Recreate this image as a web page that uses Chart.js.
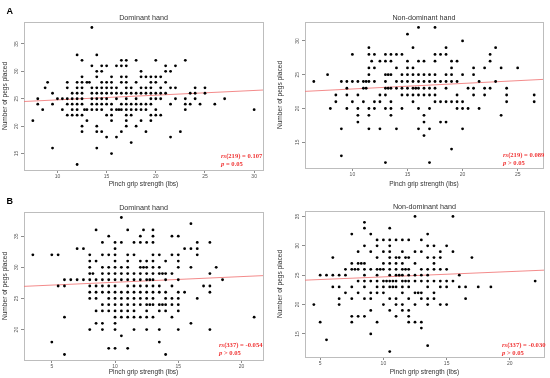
<!DOCTYPE html>
<html>
<head>
<meta charset="utf-8">
<script src="https://cdn.jsdelivr.net/npm/chart.js@4.4.1/dist/chart.umd.min.js"></script>
<style>
  html, body { margin: 0; padding: 0; background: #fff; }
  #wrap { position: relative; width: 550px; height: 378px; overflow: hidden; }
  canvas { position: absolute; }
</style>
</head>
<body>
<div id="wrap">
  <canvas id="c1" width="275" height="190" style="left:0;top:0"></canvas>
  <canvas id="c2" width="275" height="190" style="left:275px;top:0"></canvas>
  <canvas id="c3" width="275" height="188" style="left:0;top:190px"></canvas>
  <canvas id="c4" width="275" height="188" style="left:275px;top:190px"></canvas>
</div>
<script>
// ---- data ----
// each x value (pinch grip, lbs) with the peg counts plotted at it

// A, dominant hand
const aDomX = [7.5, 8, 8.5, 8.75, 9, 9.5, 10, 10.5, 11, 11.5, 12, 12.5, 12.75, 13, 13.25, 13.5, 14, 14.5, 15, 15.5, 16, 16.25, 16.5, 17, 17.5, 18, 18.5, 19, 19.5, 20, 20.5, 21, 21.5, 22, 22.5, 23, 23.5, 24, 24.5, 25, 26, 27, 30];
const aDomY = [[21], [25, 24], [23], [27], [28], [26, 24, 16], [25], [25, 23], [28, 27, 25, 24, 22], [26, 25, 24, 23, 22],
  [33, 28, 27, 26, 25, 24, 23, 22, 13], [32, 29, 28, 27, 26, 25, 24, 22, 20, 19], [23], [28, 23, 21], [28],
  [38, 31, 27, 26, 25, 24, 23], [33, 30, 29, 27, 26, 25, 24, 23, 20, 19, 16], [31, 30, 28, 27, 26, 25, 24, 23, 19],
  [31, 28, 27, 26, 25, 24, 22, 18], [29, 28, 27, 26, 24, 23, 22, 21, 15], [31, 27, 26, 25, 23, 18], [23],
  [32, 31, 29, 28, 26, 24, 23, 19], [32, 31, 29, 28, 27, 26, 25, 24, 23, 22, 21, 20], [27, 26, 24, 23, 22, 17],
  [32, 28, 26, 25, 24, 23, 20], [30, 29, 27, 26, 24, 23, 21], [29, 27, 26, 24, 23, 19], [29, 28, 27, 26, 25, 24, 22, 21],
  [32, 29, 28, 26, 25, 23, 22], [29, 27, 26, 25, 22], [31, 30, 28, 26], [30, 27, 24, 18], [31, 27, 25], [19],
  [32, 25, 24, 23], [26, 24], [27, 26, 25], [24], [27, 26], [24], [25], [23]];
const aDomXRange = [6.6, 30.9];
const aDomYRange = [12, 39];
const aDomXTicks = [10, 15, 20, 25, 30];
const aDomYTicks = [15, 20, 25, 30, 35];
const aDomFit = [23.93, 0.086];   // intercept, slope of the red line

// A, non-dominant hand
const aNonX = [6.5, 7.75, 8, 8.5, 9, 9.5, 10, 10.5, 11, 11.25, 11.5, 11.75, 12, 12.5, 13, 13.25, 13.5, 14, 14.5, 15, 15.5, 15.75, 16, 16.5, 17, 17.5, 18, 18.5, 19, 19.5, 20, 20.5, 21, 21.5, 22, 22.5, 23, 23.5, 24, 25, 26.5];
const aNonY = [[24], [25], [20], [22, 21], [24, 17, 13], [24, 23, 22, 20], [28, 24, 21], [24, 22, 20, 19, 18], [24, 23, 21], [24, 23],
  [29, 28, 26, 25, 24, 20, 19, 17], [27], [28, 26, 24, 21, 20], [27, 22, 21, 17], [28, 27, 25, 24, 23, 22, 20, 12], [25, 23],
  [28, 27, 25, 23, 21, 20, 19], [28, 26, 24, 23, 17], [28, 25, 24, 23, 22, 20], [31, 27, 26, 25, 24, 23, 22],
  [29, 26, 25, 24, 23, 22, 21], [23], [32, 27, 25, 24, 23, 22, 20, 17], [27, 25, 24, 23, 22, 19, 18, 16],
  [25, 24, 23, 22, 20, 17, 12], [32, 28, 27, 25, 24, 23, 22, 21], [28, 24, 21, 18], [29, 28, 25, 24, 23, 21, 18],
  [27, 26, 25, 24, 21, 14], [27, 24, 22, 21, 20], [30, 25, 21, 20, 17], [23, 20], [26, 25, 23, 22], [24, 20],
  [26, 23, 22], [28, 27, 23], [29, 24], [26, 19], [23, 22, 21], [26], [22, 21]];
const aNonXRange = [5.7, 27.3];
const aNonYRange = [11.2, 32.8];
const aNonXTicks = [10, 15, 20, 25];
const aNonYTicks = [15, 20, 25, 30];
const aNonFit = [22.07, 0.082];

// B, dominant hand
const bDomX = [3.5, 5, 5.5, 6, 6.5, 7, 7.5, 8, 8.25, 8.5, 9, 9.5, 10, 10.5, 11, 11.5, 12, 12.25, 12.5, 12.75, 13, 13.5, 13.75, 14, 14.5, 15, 15.5, 16, 16.5, 17, 17.5, 18, 18.5, 21];
const bDomY = [[32], [32, 18], [32, 27], [28, 27, 22, 16], [28], [33, 28], [33, 28], [32, 31, 30, 29, 28, 27, 26, 25, 20], [29],
  [36, 31, 28, 27, 26, 25, 23, 21], [34, 32, 30, 29, 28, 27, 26, 24, 23, 21, 20], [35, 32, 30, 29, 28, 27, 26, 25, 24, 23, 17],
  [34, 33, 32, 31, 30, 29, 28, 27, 26, 25, 24, 23, 22, 21, 20, 17], [38, 34, 30, 29, 28, 26, 25, 24, 23, 22, 19],
  [36, 32, 31, 30, 29, 28, 27, 26, 25, 24, 23, 22, 17], [34, 32, 29, 28, 27, 26, 25, 24, 23, 22, 20],
  [35, 34, 31, 30, 29, 28, 27, 26, 25, 24, 22], [36, 30], [34, 31, 30, 29, 28, 27, 26, 25, 24, 23, 22, 20], [28, 24],
  [36, 35, 34, 32, 31, 30, 29, 28, 27, 26, 25, 24, 22], [32, 30, 29, 27, 26, 24, 23, 20, 18], [29, 24],
  [31, 29, 28, 26, 25, 24, 23, 16], [35, 32, 29, 27, 25, 24, 22], [35, 32, 31, 30, 28, 26, 25, 24, 23, 20], [33, 26],
  [37, 33, 30, 21], [34, 33, 32, 25], [27], [34, 29, 27, 26, 20], [30], [28], [22]];
const bDomXRange = [2.8, 21.7];
const bDomYRange = [15.12, 38.88];
const bDomXTicks = [5, 10, 15, 20];
const bDomYTicks = [20, 25, 30, 35];
const bDomFit = [26.69, 0.091];

// B, non-dominant hand
const bNonX = [4.5, 5, 5.5, 6, 6.5, 7, 7.5, 7.75, 8, 8.25, 8.5, 9, 9.5, 9.75, 10, 10.25, 10.5, 10.75, 11, 11.25, 11.5, 11.75, 12, 12.5, 12.75, 13, 13.5, 14, 14.5, 15, 15.5, 16, 16.5, 17, 17.5, 18.5, 22];
const bNonY = [[20], [25, 17], [25, 14], [28, 25, 23], [25, 23, 21, 20], [26, 25, 22], [32, 27, 26, 23, 21, 18, 17], [26],
  [29, 27, 26, 24, 22, 18], [27], [34, 33, 30, 27, 26, 25, 24, 23, 21, 18], [32, 29, 26, 24, 22, 21, 19, 15],
  [31, 30, 28, 26, 25, 24, 23, 22, 17], [26], [31, 29, 27, 26, 24, 23, 22, 20], [24],
  [33, 31, 30, 29, 28, 27, 26, 25, 24, 23, 21, 19, 12], [24, 23], [31, 28, 27, 26, 25, 24, 23, 21, 20, 18], [28, 25],
  [31, 29, 27, 26, 25, 24, 23, 22, 20, 19], [28, 26, 24], [31, 28, 26, 25, 24, 23, 21, 19, 18, 17],
  [35, 29, 27, 25, 24, 22, 20, 17], [22], [31, 29, 26, 25, 24, 22, 21, 17, 16], [32, 30, 28, 26, 25, 24, 23, 21, 20, 13],
  [30, 28, 27, 26, 24, 22, 21], [29, 28, 26, 24, 23, 20], [30, 26, 24, 23, 20], [35, 29, 24], [25, 23], [23, 21],
  [28], [23], [23], [24]];
const bNonXRange = [3.8, 22.7];
const bNonYRange = [11.08, 35.92];
const bNonXTicks = [5, 10, 15, 20];
const bNonYTicks = [15, 20, 25, 30, 35];
const bNonFit = [23.81, 0.09];

const titles = ['Dominant hand', 'Non-dominant hand', 'Dominant hand', 'Non-dominant hand'];
const statN = ['219', '219', '337', '337'];
const statR = ['0.107', '0.089', '-0.054', '-0.030'];
const statP = ['= 0.05', '> 0.05', '> 0.05', '> 0.05'];
const letters = ['A', '', 'B', ''];

// ---- drawing ----
const SANS = '"Liberation Sans", Arial, sans-serif';
const SERIF = '"Liberation Serif", "Times New Roman", serif';
const RED = '#f03434';

// plot box of each canvas: left, top, right, bottom
const boxes = [
  [24, 22, 263, 170],
  [30, 22, 268, 168],
  [24, 22, 263, 170],
  [30, 21, 269, 167]
];
// where the two stat lines start, relative to the canvas
const statPos = [[221, 156], [228, 155], [219, 155], [227, 155]];

const decor = {
  id: 'decor',
  beforeDatasetsDraw(chart, args, o) {
    const {ctx, chartArea: a} = chart;
    ctx.save();
    ctx.strokeStyle = '#bdbdbd';
    ctx.lineWidth = 1;
    ctx.strokeRect(Math.round(a.left) + 0.5, Math.round(a.top) + 0.5,
      Math.round(a.right - a.left), Math.round(a.bottom - a.top));
    ctx.restore();
  },
  afterDraw(chart, args, o) {
    const {ctx, chartArea: a} = chart;
    const i = o.idx;
    ctx.save();
    // title
    ctx.fillStyle = '#333';
    ctx.font = '7.2px ' + SANS;
    ctx.textAlign = 'center';
    ctx.textBaseline = 'middle';
    ctx.fillText(titles[i], (a.left + a.right) / 2, a.top - 4);
    // letter
    if (letters[i]) {
      ctx.fillStyle = '#000';
      ctx.font = 'bold 9px ' + SANS;
      ctx.textAlign = 'left';
      ctx.fillText(letters[i], 6.5, 12);
    }
    // stats
    const [sx, sy] = statPos[i];
    ctx.fillStyle = RED;
    ctx.textAlign = 'left';
    let x = sx;
    const seg = (txt, style, y) => {
      ctx.font = style + ' 6.6px ' + SERIF;
      ctx.fillText(txt, x, y);
      x += ctx.measureText(txt).width;
    };
    seg('rs', 'italic bold', sy);
    seg('(' + statN[i] + ') = ' + statR[i], 'bold', sy);
    x = sx;
    seg('p', 'italic bold', sy + 8.5);
    seg(' ' + statP[i], 'bold', sy + 8.5);
    ctx.restore();
  }
};

function makePanel(id, idx, xs, ys, xr, yr, xt, yt, fit) {
  const canvas = document.getElementById(id);
  const W = canvas.width, H = canvas.height;
  const [L, T, R, B] = boxes[idx];
  const pts = [];
  xs.forEach((x, i) => ys[i].forEach(y => pts.push({x: x, y: y})));
  const line = xr.map(x => ({x: x, y: fit[0] + fit[1] * x}));
  const axisColor = '#8c8c8c';

  new Chart(canvas, {
    type: 'scatter',
    data: {
      datasets: [
        {
          data: pts,
          backgroundColor: '#000',
          borderColor: '#000',
          pointRadius: 1.4,
          pointBorderWidth: 0,
          pointHoverRadius: 1.4
        },
        {
          type: 'line',
          data: line,
          borderColor: 'rgba(240, 110, 110, 0.8)',
          borderWidth: 1,
          pointRadius: 0,
          showLine: true,
          fill: false
        }
      ]
    },
    options: {
      responsive: false,
      animation: false,
      devicePixelRatio: 1,
      layout: { padding: { left: 0, top: T, right: W - R, bottom: 0 } },
      plugins: {
        legend: { display: false },
        title: { display: false },
        tooltip: { enabled: false },
        decor: { idx: idx }
      },
      scales: {
        x: {
          type: 'linear',
          min: xr[0],
          max: xr[1],
          afterBuildTicks: s => { s.ticks = xt.map(v => ({value: v})); },
          afterFit: s => { s.height = H - B; },
          grid: { display: true, drawOnChartArea: false, drawTicks: true, tickLength: 3, color: axisColor },
          border: { display: true, color: axisColor },
          ticks: {
            font: { family: SANS, size: 5 },
            color: '#555',
            padding: 1,
            maxRotation: 0,
            autoSkip: false,
            callback: v => String(v)
          },
          title: {
            display: true,
            text: 'Pinch grip strength (lbs)',
            font: { family: SANS, size: 6.6 },
            color: '#333',
            padding: { top: 0, bottom: 2 }
          }
        },
        y: {
          type: 'linear',
          min: yr[0],
          max: yr[1],
          afterBuildTicks: s => { s.ticks = yt.map(v => ({value: v})); },
          afterFit: s => { s.width = L; },
          grid: { display: true, drawOnChartArea: false, drawTicks: true, tickLength: 3, color: axisColor },
          border: { display: true, color: axisColor },
          ticks: {
            font: { family: SANS, size: 5 },
            color: '#555',
            padding: 2,
            minRotation: 90,
            maxRotation: 90,
            crossAlign: 'center',
            autoSkip: false,
            callback: v => String(v)
          },
          title: {
            display: true,
            text: 'Number of pegs placed',
            font: { family: SANS, size: 6.6 },
            color: '#333',
            padding: { top: 1, bottom: 0 }
          }
        }
      }
    },
    plugins: [decor]
  });
}

makePanel('c1', 0, aDomX, aDomY, aDomXRange, aDomYRange, aDomXTicks, aDomYTicks, aDomFit);
makePanel('c2', 1, aNonX, aNonY, aNonXRange, aNonYRange, aNonXTicks, aNonYTicks, aNonFit);
makePanel('c3', 2, bDomX, bDomY, bDomXRange, bDomYRange, bDomXTicks, bDomYTicks, bDomFit);
makePanel('c4', 3, bNonX, bNonY, bNonXRange, bNonYRange, bNonXTicks, bNonYTicks, bNonFit);
</script>
</body>
</html>
